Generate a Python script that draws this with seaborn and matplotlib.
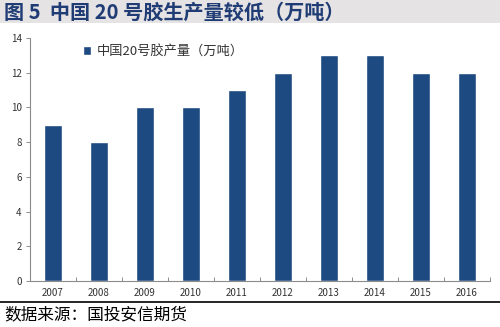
import matplotlib
matplotlib.use("Agg")
import matplotlib.pyplot as plt
from matplotlib.patches import Rectangle
from matplotlib.lines import Line2D
from matplotlib.ticker import FixedLocator
import seaborn as sns
import pandas as pd

years = ["2007", "2008", "2009", "2010", "2011", "2012", "2013", "2014", "2015", "2016"]
output = [9, 8, 10, 10, 11, 12, 13, 13, 12, 12]
series_name = "中国20号胶产量（万吨）"
yticks = [0, 2, 4, 6, 8, 10, 12, 14]

sns.set_theme(style="white")
plt.rcParams["font.family"] = ["Noto Sans CJK SC", "DejaVu Sans"]

df = pd.DataFrame({"year": years, "value": output, "series": series_name})

fig = plt.figure(figsize=(5.0, 3.27), dpi=100)
fig.patch.set_facecolor("white")

# title band
fig.patches.append(Rectangle((0, 1 - 23 / 327), 1, 23 / 327, transform=fig.transFigure,
                             facecolor="#e6e3e5", edgecolor="none", zorder=0))
fig.text(0.008, 1 - 12 / 327, "图 5  中国 20 号胶生产量较低（万吨）", fontsize=14.5,
         fontweight="bold", color="#1f3c74", va="center", ha="left")

ax = fig.add_axes([0.06, 46 / 327, 0.92, 243 / 327])
bar_color = "#1d4a80"
sns.barplot(data=df, x="year", y="value", hue="series", palette=[bar_color],
            width=0.39, ax=ax, saturation=1)

ax.set_ylim(0, 14)
ax.set_xlim(-0.5, len(years) - 0.5)
ax.set_yticks(yticks)
ax.set_xlabel("")
ax.set_ylabel("")
for s in ["top", "right"]:
    ax.spines[s].set_visible(False)
for s in ["left", "bottom"]:
    ax.spines[s].set_color("#8c8c8c")
    ax.spines[s].set_linewidth(0.8)

ax.tick_params(axis="y", which="major", direction="out", length=3, width=0.7,
               color="#8c8c8c", labelsize=7, labelcolor="#333333", pad=3, left=True)
ax.tick_params(axis="x", which="major", length=0, labelsize=7, labelcolor="#333333", pad=5)
ax.xaxis.set_minor_locator(FixedLocator([i + 0.5 for i in range(-1, len(years))]))
ax.tick_params(axis="x", which="minor", direction="in", length=3, width=0.7,
               color="#8c8c8c", bottom=True)

leg = ax.legend(loc="upper left", bbox_to_anchor=(0.09, 1.02), frameon=False,
                fontsize=9.5, handlelength=0.6, handleheight=0.6, handletextpad=0.4)
for t in leg.get_texts():
    t.set_color("#333333")

# footer rule and source
fig.add_artist(Line2D([0, 1], [1 - 302 / 327] * 2, transform=fig.transFigure,
                      color="black", linewidth=1.2))
fig.text(0.008, 1 - 315 / 327, "数据来源：国投安信期货", fontsize=12, color="black",
         va="center", ha="left")

fig.savefig("out.png", dpi=100)
